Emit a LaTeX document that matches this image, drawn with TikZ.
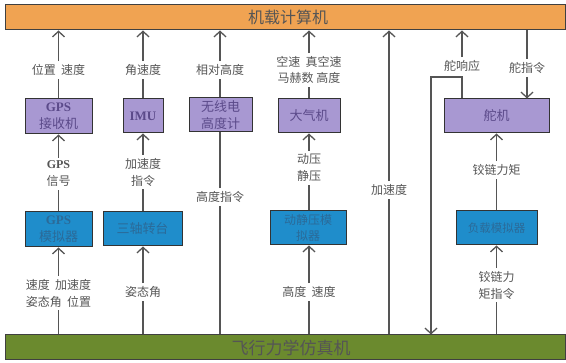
\documentclass[tikz,border=0pt]{standalone}
\usepackage{fontspec}
\setmainfont{Liberation Serif}
\newfontfamily\cjk{Noto Sans CJK SC}
\usetikzlibrary{arrows.meta}
\definecolor{barorange}{HTML}{F0A352}
\definecolor{bargreen}{HTML}{6B8A2E}
\definecolor{pfill}{HTML}{A898D2}
\definecolor{ptext}{HTML}{5B4A8A}
\definecolor{bfill}{HTML}{1F8DCB}
\definecolor{btext}{HTML}{2B6A98}
\definecolor{lcol}{HTML}{555555}
\tikzset{
  bar/.style={draw=black!75, line width=1pt, inner sep=0pt, text=lcol},
  pbox/.style={draw=black!80, fill=pfill, line width=1pt, inner sep=0pt, align=center, text=ptext,
    font=\cjk\fontsize{13}{17}\selectfont},
  bbox/.style={draw=black!80, fill=bfill, line width=1pt, inner sep=0pt, align=center, text=btext,
    font=\cjk\fontsize{13}{17}\selectfont},
  lab/.style={inner sep=3pt, align=center, text=lcol, font=\cjk\fontsize{12}{17}\selectfont},
  wire/.style={draw=lcol, line width=1.3pt},
  arr/.style={wire, -{Straight Barb[length=5.5pt,width=12pt]}},
}
\newcommand{\lat}[1]{{\rmfamily\bfseries #1}}
\begin{document}
\begin{tikzpicture}[x=1pt,y=-1pt]
\useasboundingbox (0,0) rectangle (566,363);
% bars
\node[bar, fill=barorange, minimum width=560pt, minimum height=25pt, font=\cjk\fontsize{16}{18}\selectfont] (top) at (285,17.5) {\hspace*{6pt}机载计算机};
\node[bar, fill=bargreen, minimum width=560pt, minimum height=25pt, font=\cjk\fontsize{17}{19}\selectfont] (bot) at (285,347.5) {\hspace*{12pt}飞行力学仿真机};

% lines behind boxes (radio altimeter column)
\node[lab] (lrel) at (220,70) {相对高度};
\node[lab] (lhcmd) at (220,197) {高度指令};
\draw[wire] (lhcmd.south) -- (lhcmd.south |- bot.north);
\draw[wire] (lhcmd.north) -- (lrel.south);
\draw[arr] (lrel.north) -- (lrel.north |- top.south);

% top row boxes
\node[pbox, minimum width=67pt, minimum height=35pt] (gpsr) at (58.5,116.5) {\lat{GPS}\\接收机};
\node[pbox, minimum width=40pt, minimum height=34pt] (imu) at (143,116) {\lat{IMU}};
\node[pbox, minimum width=63pt, minimum height=34pt] (radio) at (220.5,115) {无线电\\高度计};
\node[pbox, minimum width=62pt, minimum height=34pt] (air) at (309,116) {大气机};
\node[pbox, minimum width=105pt, minimum height=34pt] (servo) at (496.5,116) {舵机};

% bottom row boxes
\node[bbox, minimum width=67pt, minimum height=35pt] (gpss) at (58.5,229.5) {\lat{GPS}\\模拟器};
\node[bbox, minimum width=79pt, minimum height=34pt] (turn) at (142.5,229) {三轴转台};
\node[bbox, minimum width=76pt, minimum height=34pt, font=\cjk\fontsize{12}{16}\selectfont] (press) at (308,228) {动静压模\\拟器};
\node[bbox, minimum width=81pt, minimum height=34pt, font=\cjk\fontsize{11.5}{14}\selectfont] (load) at (496.5,228) {负载模拟器};

% GPS column
\node[lab] (l1) at (58.5,70) {位置\ \ 速度};
\draw[wire] (gpsr.north) -- (l1.south);
\draw[arr] (l1.north) -- (l1.north |- top.south);
\node[lab] (l2) at (58.5,174) {\lat{GPS}\\信号};
\draw[wire] (gpss.north) -- (l2.south);
\draw[arr] (l2.north) -- (gpsr.south);
\node[lab] (l3) at (58.5,293) {速度\ \ 加速度\\姿态角\ \ 位置};
\draw[wire] (l3.south |- bot.north) -- (l3.south);
\draw[arr] (l3.north) -- (gpss.south);

% IMU column
\node[lab] (l4) at (143,70) {角速度};
\draw[wire] (imu.north) -- (l4.south);
\draw[arr] (l4.north) -- (l4.north |- top.south);
\node[lab] (l5) at (143,172) {加速度\\指令};
\draw[wire] (turn.north -| l5) -- (l5.south);
\draw[arr] (l5.north) -- (imu.south);
\node[lab] (l6) at (143,292) {姿态角};
\draw[wire] (l6.south |- bot.north) -- (l6.south);
\draw[arr] (l6.north) -- (l6.north |- turn.south);

% air data column
\node[lab, font=\cjk\fontsize{12}{16}\selectfont] (l7) at (309,70) {空速\ \ 真空速\\马赫数\ 高度};
\draw[wire] (air.north) -- (l7.south);
\draw[arr] (l7.north) -- (l7.north |- top.south);
\node[lab] (l8) at (309,168) {动压\\静压};
\draw[wire] (press.north -| l8) -- (l8.south);
\draw[arr] (l8.north) -- (air.south);
\node[lab] (l9) at (309,292) {高度\ \ 速度};
\draw[wire] (l9.south |- bot.north) -- (l9.south);
\draw[arr] (l9.north) -- (l9.north |- press.south);

% acceleration column
\node[lab] (l10) at (389,190) {加速度};
\draw[wire] (l10.south |- bot.north) -- (l10.south);
\draw[arr] (l10.north) -- (l10.north |- top.south);

% servo response with loop
\node[lab] (l11) at (462,66) {舵响应};
\coordinate (sj) at (462,77);
\coordinate (sl) at (431,77);
\draw[arr] (l11.north) -- (l11.north |- top.south);
\draw[arr] (servo.north -| sj) -- (sj) -- (sl) -- (sl |- bot.north);

% servo command
\node[lab] (l12) at (527,68) {舵指令};
\draw[wire] (l12.north |- top.south) -- (l12.north);
\draw[arr] (l12.south) -- (l12.south |- servo.north);

% hinge moment column
\node[lab] (l13) at (496.5,170) {铰链力矩};
\draw[wire] (load.north) -- (l13.south);
\draw[arr] (l13.north) -- (servo.south);
\node[lab] (l14) at (496.5,285) {铰链力\\矩指令};
\draw[wire] (l14.south |- bot.north) -- (l14.south);
\draw[arr] (l14.north) -- (load.south);
\end{tikzpicture}
\end{document}
